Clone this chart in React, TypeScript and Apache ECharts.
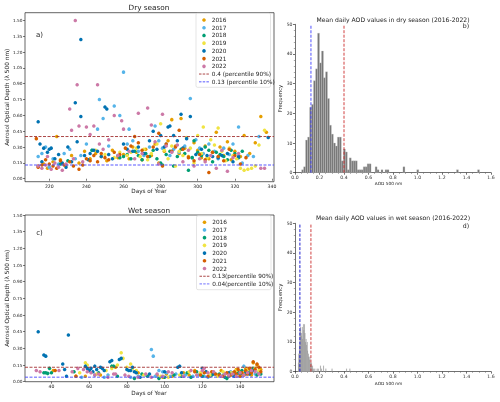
import React, { useEffect, useRef } from "react";
import * as echarts from "echarts";

const FONT = "DejaVu Sans";

const YEARS = ["2016", "2017", "2018", "2019", "2020", "2021", "2022"];
const YEAR_COLORS = ["#E69F00", "#56B4E9", "#009E73", "#F0E442", "#0072B2", "#D55E00", "#CC79A7"];

// ---- Dry season daily AOD: [day of year, AOD] ----
const dry2016 = [[214,0.12],[217,0.14],[219,0.10],[222,0.16],[224,0.40],[226,0.18],[229,0.13],[232,0.22],[236,0.15],[239,0.26],[242,0.19],[245,0.24],[248,0.21],[251,0.17],[254,0.27],[257,0.20],[260,0.23],[263,0.19],[265,0.30],[267,0.25],[270,0.18],[272,0.28],[275,0.22],[277,0.33],[279,0.15],[282,0.26],[284,0.36],[286,0.56],[288,0.31],[290,0.24],[291,0.57],[293,0.29],[295,0.21],[298,0.34],[300,0.27],[302,0.20],[304,0.31],[306,0.19],[308,0.25],[310,0.44],[312,0.30],[314,0.22],[316,0.35],[318,0.18],[320,0.26],[323,0.21],[325,0.41],[328,0.24],[331,0.34],[334,0.59],[337,0.44]];
const dry2017 = [[214,0.21],[216,0.24],[218,0.30],[220,0.11],[222,0.19],[225,0.14],[228,0.24],[231,0.28],[234,0.19],[237,0.22],[240,0.33],[243,0.27],[246,0.47],[247,0.75],[249,0.57],[252,0.31],[255,0.69],[258,0.60],[260,1.01],[262,0.33],[263,0.47],[265,0.36],[268,0.26],[271,0.22],[274,0.30],[277,0.50],[279,0.36],[281,0.29],[283,0.33],[285,0.22],[287,0.28],[290,0.25],[293,0.31],[296,0.76],[297,0.20],[299,0.37],[301,0.29],[303,0.24],[306,0.33],[309,0.26],[311,0.19],[314,0.29],[317,0.23],[319,0.33],[322,0.49],[324,0.15],[327,0.22],[330,0.21],[333,0.40]];
const dry2018 = [[226,0.14],[230,0.17],[243,0.27],[258,0.20],[260,0.21],[262,0.23],[264,0.19],[266,0.26],[268,0.22],[270,0.18],[272,0.24],[274,0.21],[276,0.27],[278,0.19],[280,0.15],[281,0.13],[283,0.23],[285,0.26],[287,0.12],[289,0.21],[291,0.28],[293,0.24],[295,0.08],[297,0.20],[298,0.36],[300,0.25],[302,0.22],[304,0.30],[306,0.27],[308,0.16],[310,0.25],[312,0.23],[314,0.21],[316,0.18],[318,0.27],[320,0.24],[322,0.20],[324,0.26]];
const dry2019 = [[245,0.27],[250,0.23],[255,0.20],[258,0.25],[262,0.22],[264,0.25],[267,0.29],[269,0.21],[271,0.28],[273,0.18],[275,0.24],[278,0.33],[280,0.52],[282,0.27],[284,0.19],[286,0.31],[288,0.12],[290,0.26],[292,0.22],[294,0.39],[296,0.29],[298,0.15],[300,0.41],[302,0.24],[303,0.49],[305,0.20],[307,0.37],[309,0.32],[311,0.48],[313,0.26],[315,0.17],[317,0.29],[319,0.22],[321,0.19],[323,0.10],[325,0.08],[327,0.09],[329,0.10],[331,0.12],[333,0.32],[336,0.46]];
const dry2020 = [[214,0.54],[215,0.33],[216,0.16],[217,0.29],[219,0.25],[220,0.28],[221,0.29],[223,0.19],[225,0.23],[227,0.15],[229,0.11],[230,0.30],[232,0.16],[234,0.72],[235,0.35],[237,1.32],[237,0.59],[239,0.22],[241,0.18],[242,0.24],[244,0.27],[246,0.26],[248,0.21],[250,0.68],[251,0.66],[252,0.23],[254,0.19],[257,0.22],[260,0.33],[262,0.28],[265,0.26],[268,0.30],[271,0.24],[274,0.36],[276,0.45],[278,0.28],[280,0.41],[282,0.30],[284,0.49],[285,0.50],[287,0.41],[289,0.36],[291,0.61],[292,0.29],[294,0.38],[296,0.59],[299,0.23],[302,0.28],[305,0.22],[308,0.21],[311,0.20],[313,0.22],[316,0.24],[319,0.16],[322,0.21],[338,0.39]];
const dry2021 = [[213,0.38],[214,0.11],[216,0.13],[218,0.18],[220,0.14],[222,0.12],[224,0.10],[226,0.17],[228,0.13],[231,0.16],[233,0.12],[236,0.09],[238,0.13],[240,0.19],[242,0.17],[244,0.22],[246,0.16],[248,0.24],[250,0.20],[252,0.18],[255,0.25],[258,0.23],[261,0.29],[264,0.31],[266,0.40],[268,0.34],[270,0.27],[273,0.21],[276,0.30],[279,0.43],[281,0.12],[283,0.33],[286,0.26],[288,0.30],[290,0.46],[292,0.28],[295,0.20],[298,0.17],[301,0.23],[304,0.18],[306,0.06],[308,0.25],[311,0.21],[314,0.17],[317,0.28],[320,0.22],[323,0.14],[326,0.20]];
const dry2022 = [[214,0.12],[216,0.10],[218,0.13],[219,0.21],[221,0.09],[223,0.15],[225,0.11],[227,0.08],[229,0.14],[231,0.66],[232,0.46],[233,0.19],[234,1.50],[235,0.89],[236,0.50],[238,0.16],[240,0.49],[242,0.42],[244,0.50],[246,0.89],[247,0.33],[249,0.28],[252,0.37],[255,0.60],[257,0.22],[259,0.55],[260,0.47],[263,0.26],[266,0.19],[268,0.62],[270,0.24],[273,0.67],[275,0.51],[277,0.35],[279,0.14],[281,0.61],[283,0.31],[286,0.25],[289,0.32],[292,0.16],[295,0.27],[298,0.12],[301,0.19],[304,0.16],[307,0.22],[310,0.10],[313,0.27],[316,0.07],[319,0.20],[322,0.24],[334,0.10],[336,0.10]];

// ---- Wet season daily AOD: [day of year, AOD] ----
const wet2016 = [[41,0.10],[53,0.05],[58,0.05],[66,0.06],[74,0.13],[86,0.08],[96,0.06],[99,0.04],[101,0.07],[104,0.05],[110,0.08],[113,0.06],[116,0.10],[119,0.07],[122,0.09],[124,0.05],[126,0.08],[128,0.06],[130,0.10],[132,0.07],[134,0.05],[136,0.08],[138,0.11],[140,0.09],[142,0.07],[143,0.12],[145,0.10],[146,0.06],[147,0.17],[149,0.15],[150,0.08],[151,0.11]];
const wet2017 = [[56,0.04],[63,0.06],[68,0.04],[70,0.06],[82,0.04],[86,0.05],[90,0.06],[93,0.29],[94,0.23],[95,0.05],[97,0.10],[99,0.09],[101,0.08],[103,0.05],[106,0.07],[111,0.06],[115,0.05],[118,0.06],[121,0.05],[123,0.04],[127,0.07],[131,0.06],[135,0.09],[137,0.07],[139,0.08],[141,0.06],[142,0.14],[144,0.09],[146,0.11],[148,0.07],[150,0.09]];
const wet2018 = [[36,0.08],[37,0.08],[38,0.075],[39,0.12],[40,0.08],[52,0.09],[60,0.10],[65,0.08],[72,0.14],[73,0.14],[75,0.05],[84,0.03],[88,0.07],[91,0.05],[97,0.03],[100,0.04],[105,0.06],[109,0.05],[112,0.08],[114,0.04],[117,0.09],[120,0.05],[125,0.06],[129,0.07],[132,0.04],[133,0.03],[136,0.06],[139,0.08],[141,0.10],[143,0.07],[145,0.09],[147,0.12],[149,0.06],[151,0.07]];
const wet2019 = [[55,0.08],[58,0.17],[59,0.15],[64,0.07],[69,0.10],[72,0.12],[75,0.15],[77,0.26],[78,0.21],[80,0.13],[82,0.16],[83,0.12],[85,0.10],[89,0.06],[98,0.05],[102,0.04],[108,0.06],[113,0.09],[119,0.08],[124,0.06],[128,0.05],[131,0.09],[135,0.08],[138,0.10],[140,0.06],[142,0.08],[144,0.11],[146,0.09],[148,0.12],[150,0.10]];
const wet2020 = [[33,0.45],[36,0.24],[37,0.23],[46,0.16],[47,0.11],[48,0.05],[49,0.42],[58,0.14],[59,0.12],[60,0.10],[61,0.12],[62,0.09],[63,0.14],[64,0.11],[66,0.13],[67,0.12],[68,0.10],[71,0.18],[72,0.19],[76,0.20],[77,0.21],[80,0.11],[81,0.10],[82,0.10],[83,0.13],[84,0.09],[85,0.08],[87,0.04],[92,0.07],[100,0.09],[107,0.13],[108,0.14],[109,0.08],[120,0.12],[122,0.09],[126,0.07],[134,0.08],[137,0.05],[140,0.07],[143,0.09],[145,0.07],[147,0.10]];
const wet2021 = [[42,0.10],[53,0.05],[116,0.09],[119,0.06],[121,0.08],[123,0.05],[125,0.09],[127,0.07],[129,0.06],[131,0.05],[133,0.08],[135,0.06],[137,0.09],[138,0.07],[139,0.11],[140,0.05],[141,0.08],[142,0.06],[143,0.10],[144,0.07],[145,0.12],[146,0.08],[147,0.18],[148,0.11],[149,0.16],[150,0.13],[151,0.09]];
const wet2022 = [[32,0.10],[34,0.09],[44,0.10],[51,0.09],[54,0.12],[57,0.11],[59,0.09],[61,0.08],[63,0.06],[65,0.07],[70,0.04],[73,0.07],[74,0.07],[79,0.06],[81,0.05],[86,0.04],[90,0.07],[93,0.04],[96,0.07],[99,0.05],[102,0.09],[104,0.08],[110,0.05],[114,0.10],[117,0.06],[120,0.10],[121,0.12],[123,0.08],[126,0.09],[130,0.05],[132,0.07],[134,0.06],[136,0.07],[138,0.05],[140,0.08],[142,0.06],[144,0.08],[146,0.10],[148,0.09],[150,0.07]];

const dryByYear = [dry2016, dry2017, dry2018, dry2019, dry2020, dry2021, dry2022];
const wetByYear = [wet2016, wet2017, wet2018, wet2019, wet2020, wet2021, wet2022];

// ---- Percentiles ----
const dryPercentiles = [0.4, 0.13]; // 90%, 10%
const wetPercentiles = [0.13, 0.04];
const dryPercentileLabels = ["0.4 (percentile 90%)", "0.13 (percentile 10%)"];
const wetPercentileLabels = ["0.13(percentile 90%)", "0.04(percentile 10%)"];

// ---- Histograms (bin left edge, count) ----
const DRY_BIN_W = 0.0162;
const dryBinLeft = [0.054,0.070,0.086,0.103,0.119,0.135,0.151,0.168,0.184,0.200,0.216,0.232,0.249,0.265,0.281,0.297,0.314,0.330,0.346,0.362,0.378,0.395,0.411,0.427,0.443,0.460,0.476,0.492,0.508,0.524,0.540,0.557,0.573,0.589,0.605,0.654,0.670,0.702,0.735,0.751,0.881,0.994,1.318,1.490];
const dryCounts = [1,2,11,12,22,23,31,35,47,37,41,32,34,25,16,13,10,9,12,12,4,8,7,1,5,4,4,4,1,1,1,2,2,3,3,2,1,1,1,1,2,1,1,1];
const WET_BIN_W = 0.0045;
const wetBinLeft = [0.025,0.0295,0.034,0.0385,0.043,0.0475,0.052,0.0565,0.061,0.0655,0.070,0.0745,0.079,0.0835,0.088,0.0925,0.097,0.1015,0.106,0.1105,0.115,0.1195,0.124,0.1285,0.133,0.1375,0.142,0.151,0.160,0.178,0.187,0.205,0.214,0.232,0.250,0.300,0.420,0.446];
const wetCounts = [3,6,9,14,15,12,13,15,11,16,14,16,13,10,11,9,10,7,6,5,4,5,3,2,3,1,2,1,1,1,1,2,1,2,1,1,1,1];

// ---- Tick labels ----
const aodTicks = [0, 0.15, 0.3, 0.45, 0.6, 0.75, 0.9, 1.05, 1.2, 1.35, 1.5];
const dryDayTicks = [220, 240, 260, 280, 300, 320, 340];
const wetDayTicks = [40, 60, 80, 100, 120, 140];

const DRY_X = [206.9, 341.1];
const DRY_Y = [-0.028, 1.573];
const WET_X = [26, 158];
const WET_Y = [0, 1.5];

const RED = "#a33232";
const BLUE_S = "rgba(70,70,255,0.6)";

function scatterAxes(gi: number, xr: number[], yr: number[], dayTicks: number[]) {
  const tickStyle = { color: "#222", width: 0.6 };
  const x = {
    gridIndex: gi, type: "value", min: xr[0], max: xr[1],
    axisLine: { show: false }, splitLine: { show: false },
    axisTick: { show: true, customValues: dayTicks, length: 2, lineStyle: tickStyle },
    axisLabel: { customValues: dayTicks, fontSize: 4.6, color: "#222", margin: 2, fontFamily: FONT },
  };
  const y = {
    gridIndex: gi, type: "value", min: yr[0], max: yr[1],
    axisLine: { show: false }, splitLine: { show: false },
    axisTick: { show: true, customValues: aodTicks, length: 2, lineStyle: tickStyle },
    axisLabel: { customValues: aodTicks, fontSize: 4.3, color: "#222", margin: 2.5, fontFamily: FONT,
      formatter: (v: number) => v.toFixed(2) },
  };
  return { x, y };
}

function histAxes(gi: number) {
  const ls = { color: "#333", width: 0.7 };
  const x = {
    gridIndex: gi, type: "value", min: 0, max: 1.6, interval: 0.2,
    axisLine: { show: true, lineStyle: ls }, splitLine: { show: false },
    axisTick: { show: true, length: 2, lineStyle: ls },
    minorTick: { show: true, splitNumber: 4, length: 1.2, lineStyle: { color: "#555", width: 0.5 } },
    axisLabel: { fontSize: 4.6, color: "#333", margin: 2.5, fontFamily: FONT, formatter: (v: number) => v.toFixed(1) },
  };
  const y = {
    gridIndex: gi, type: "value", min: 0, max: 50, interval: 10,
    axisLine: { show: true, lineStyle: ls }, splitLine: { show: false },
    axisTick: { show: true, length: 2, lineStyle: ls },
    minorTick: { show: true, splitNumber: 5, length: 1.2, lineStyle: { color: "#555", width: 0.5 } },
    axisLabel: { fontSize: 4.6, color: "#333", margin: 2.5, fontFamily: FONT },
  };
  return { x, y };
}

function scatterSeries(byYear: number[][][], gi: number) {
  return YEARS.map((name, i) => ({
    type: "scatter", name, xAxisIndex: gi, yAxisIndex: gi, data: byYear[i],
    symbolSize: 3.5, itemStyle: { color: YEAR_COLORS[i], opacity: 1 }, silent: true, z: 3,
  }));
}

function hLine(gi: number, xr: number[], v: number, color: string, width: number) {
  return {
    type: "line", xAxisIndex: gi, yAxisIndex: gi, data: [[xr[0], v], [xr[1], v]],
    symbol: "none", silent: true, z: 4,
    lineStyle: { color, width, type: [3, 1.5] },
  };
}

function vLine(gi: number, v: number, color: string, width: number) {
  return {
    type: "line", xAxisIndex: gi, yAxisIndex: gi, data: [[v, 0], [v, 50]],
    symbol: "none", silent: true, z: 4,
    lineStyle: { color, width, type: [3, 1.5] },
  };
}

function histSeries(gi: number, lefts: number[], counts: number[], w: number, fill: string, stroke: string, lw: number) {
  const data = lefts.map((l, i) => [l, l + w, counts[i]]);
  return {
    type: "custom", xAxisIndex: gi, yAxisIndex: gi, data, silent: true, z: 2,
    encode: { x: [0, 1], y: 2 },
    renderItem: (_p: any, api: any) => {
      const a = api.coord([api.value(0), api.value(2)]);
      const b = api.coord([api.value(1), 0]);
      return {
        type: "rect",
        shape: { x: a[0], y: a[1], width: b[0] - a[0], height: b[1] - a[1] },
        style: { fill, stroke, lineWidth: lw },
      };
    },
  };
}

function txt(x: number, y: number, text: string, fontSize: number, extra: any = {}) {
  return {
    type: "text", x, y, silent: true,
    style: { text, fontSize, fontFamily: FONT, fill: "#222", align: "center", verticalAlign: "middle", ...extra.style },
    ...(extra.rotation !== undefined ? { rotation: extra.rotation } : {}),
  };
}

function legend(x0: number, y0: number, y1: number, labels: string[], lineColors: string[], lineWidths: number[]) {
  const els: any[] = [];
  els.push({ type: "rect", shape: { x: x0, y: y0, width: 74.5, height: 74, r: 1.5 }, style: { fill: "rgba(255,255,255,0.85)", stroke: "#d4d4d4", lineWidth: 0.6 }, silent: true });
  const step = 7.72;
  YEARS.forEach((yr, i) => {
    const cy = y1 + i * step;
    els.push({ type: "circle", shape: { cx: x0 + 8, cy, r: 1.8 }, style: { fill: YEAR_COLORS[i] }, silent: true });
    els.push(txt(x0 + 15.7, cy, yr, 5.8, { style: { align: "left" } }));
  });
  labels.forEach((lab, j) => {
    const cy = y1 + (7 + j) * step;
    els.push({ type: "line", shape: { x1: x0 + 3, y1: cy, x2: x0 + 13, y2: cy }, style: { stroke: lineColors[j], lineWidth: lineWidths[j], lineDash: [2.5, 1.2] }, silent: true });
    els.push(txt(x0 + 15.7, cy, lab, 5.8, { style: { align: "left" } }));
  });
  return els;
}

export default function App() {
  const ref = useRef<HTMLDivElement>(null);
  useEffect(() => {
    if (!ref.current) return;
    const chart = echarts.init(ref.current, null, { renderer: "svg" });
    const a0 = scatterAxes(0, DRY_X, DRY_Y, dryDayTicks);
    const a1 = histAxes(1);
    const a2 = scatterAxes(2, WET_X, WET_Y, wetDayTicks);
    const a3 = histAxes(3);
    const gridBorder = { show: true, borderColor: "#222", borderWidth: 0.7, backgroundColor: "transparent" };
    const option: any = {
      animation: false,
      textStyle: { fontFamily: FONT },
      grid: [
        { left: 25, top: 12.7, width: 249, height: 169, ...gridBorder },
        { left: 295, top: 24.3, width: 196, height: 148.4, show: false },
        { left: 25, top: 215, width: 249, height: 166.7, ...gridBorder },
        { left: 295, top: 223.3, width: 196, height: 148.3, show: false },
      ],
      xAxis: [a0.x, a1.x, a2.x, a3.x],
      yAxis: [a0.y, a1.y, a2.y, a3.y],
      series: [
        ...scatterSeries(dryByYear, 0),
        hLine(0, DRY_X, dryPercentiles[0], RED, 0.9),
        hLine(0, DRY_X, dryPercentiles[1], BLUE_S, 1.5),
        histSeries(1, dryBinLeft, dryCounts, DRY_BIN_W, "#777777", "#c8c8c8", 0.3),
        vLine(1, dryPercentiles[0], "#cc2b2b", 0.9),
        vLine(1, dryPercentiles[1], "rgba(60,60,255,0.6)", 1.5),
        ...scatterSeries(wetByYear, 2),
        hLine(2, WET_X, wetPercentiles[0], RED, 0.9),
        hLine(2, WET_X, wetPercentiles[1], BLUE_S, 1.3),
        histSeries(3, wetBinLeft, wetCounts, WET_BIN_W, "#707070", "#c8c8c8", 0.2),
        vLine(3, wetPercentiles[0], "#cc2b2b", 0.9),
        vLine(3, wetPercentiles[1], "#2020d0", 1),
      ],
      graphic: [
        txt(149, 7.5, "Dry season", 7.3),
        txt(149, 210, "Wet season", 7.3),
        txt(393, 19, "Mean daily AOD values in dry season (2016-2022)", 6.1),
        txt(393, 217.5, "Mean daily AOD values in wet season (2016-2022)", 6.1),
        txt(7, 97.2, "Aerosol Optical Depth (λ 500 nm)", 5.8, { rotation: Math.PI / 2 }),
        txt(7, 298.3, "Aerosol Optical Depth (λ 500 nm)", 5.8, { rotation: Math.PI / 2 }),
        txt(149, 191, "Days of Year", 5.7),
        txt(149, 392.5, "Days of Year", 5.7),
        txt(279.5, 98.5, "Frequency", 5.3, { rotation: Math.PI / 2 }),
        txt(280, 297.3, "Frequency", 5.3, { rotation: Math.PI / 2 }),
        txt(388.5, 183.3, "AOD 500 nm", 4.3),
        txt(388.5, 383.3, "AOD 500 nm", 4.3),
        txt(39.5, 35, "a)", 7),
        txt(39.5, 233.3, "c)", 7),
        txt(466, 25, "b)", 6.2),
        txt(466, 225, "d)", 6.2),
        ...legend(196, 13.3, 20, dryPercentileLabels, [RED, BLUE_S], [0.9, 1.4]),
        ...legend(196.5, 215.7, 222.2, wetPercentileLabels, [RED, BLUE_S], [0.9, 1.3]),
      ],
    };
    chart.setOption(option);
    return () => chart.dispose();
  }, []);
  return <div ref={ref} style={{ position: "fixed", left: 0, top: 0, width: 500, height: 402 }} />;
}
